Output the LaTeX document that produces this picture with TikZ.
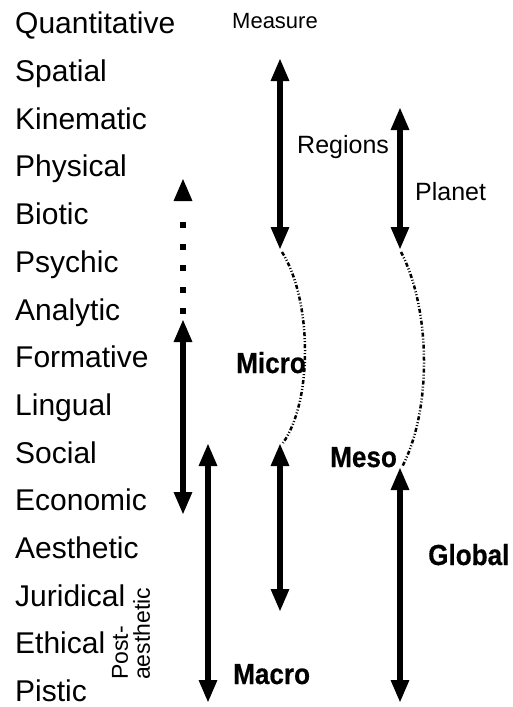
\documentclass[tikz,border=0pt]{standalone}
\usepackage{fontspec}
\setmainfont{Liberation Sans}
\newfontfamily\levelfont{Liberation Sans Bold}[FakeStretch=0.9, FakeBold=0.5]
\usetikzlibrary{arrows.meta}

\tikzset{
  aspect/.style={anchor=base west, inner sep=0pt, font=\fontsize{30}{36}\selectfont},
  levelname/.style={anchor=base west, inner sep=0pt, font=\levelfont\fontsize{29}{35}\selectfont},
  spanlabel/.style={anchor=base west, inner sep=0pt, font=\fontsize{25}{30}\selectfont},
  spanarr/.style={line width=6pt, {Triangle[length=23pt,width=17pt]}-{Triangle[length=23pt,width=17pt]}},
  tiponly/.style={line width=6pt, -{Triangle[length=23pt,width=17pt]}},
  dotlink/.style={line width=6pt, dash pattern=on 6pt off 15.5pt},
  wavelink/.style={line width=2.5pt, dash pattern=on 4pt off 2pt on 1pt off 2pt on 1pt off 2pt}
}

\begin{document}
\begin{tikzpicture}[x=1pt, y=-1pt]
      \useasboundingbox (0,0) rectangle (513,707);

      % aspects, top to bottom
      \node[aspect] (quant) at (15, 33) {Quantitative};
      \node[aspect] (spat) at (15, 81) {Spatial};
      \node[aspect] (kin) at (15, 129) {Kinematic};
      \node[aspect] (phys) at (15, 176) {Physical};
      \node[aspect] (bio) at (15, 224) {Biotic};
      \node[aspect] (psy) at (15, 272) {Psychic};
      \node[aspect] (ana) at (15, 320) {Analytic};
      \node[aspect] (form) at (15, 367) {Formative};
      \node[aspect] (ling) at (15, 415) {Lingual};
      \node[aspect] (soc) at (15, 463) {Social};
      \node[aspect] (eco) at (15, 510) {Economic};
      \node[aspect] (aes) at (15, 558) {Aesthetic};
      \node[aspect] (jur) at (15, 606) {Juridical};
      \node[aspect] (eth) at (15, 653) {Ethical};
      \node[aspect] (pis) at (15, 701) {Pistic};

      \node[rotate=90, anchor=west, inner sep=0pt, align=left,
            font=\fontsize{23}{22}\selectfont] (post) at (131, 680) {Post-\\aesthetic};

      % measure scale
      \node[anchor=base west, inner sep=0pt, font=\fontsize{22}{26}\selectfont] (meas) at (232, 28) {Measure};
      \node[spanlabel] (reg) at (297, 153) {Regions};
      \node[spanlabel] (pla) at (415, 200) {Planet};

      \node[levelname] (micro) at (236, 373) {Micro};
      \node[levelname] (meso) at (330, 467) {Meso};
      \node[levelname] (glob) at (428, 565) {Global};
      \node[levelname] (macro) at (233, 684) {Macro};

      \coordinate (regT) at (280, 58);
      \coordinate (regB) at (280, 250);
      \coordinate (plaT) at (400, 107);
      \coordinate (plaB) at (400, 250);
      \coordinate (bioT) at (183, 178);
      \coordinate (bioH) at (183, 201);
      \coordinate (dotT) at (183, 222);
      \coordinate (dotB) at (183, 314);
      \coordinate (micT) at (183, 319);
      \coordinate (micB) at (183, 515);
      \coordinate (macT) at (208, 443);
      \coordinate (macB) at (208, 703);
      \coordinate (mesT) at (280, 443);
      \coordinate (mesB) at (280, 612);
      \coordinate (gloT) at (400, 467);
      \coordinate (gloB) at (400, 703);

      \draw[spanarr] (regT) -- (regB);
      \draw[spanarr] (plaT) -- (plaB);
      \draw[tiponly] (bioH) -- (bioT);
      \draw[dotlink] (dotB) -- (dotT);
      \draw[spanarr] (micT) -- (micB);
      \draw[spanarr] (macT) -- (macB);
      \draw[spanarr] (mesT) -- (mesB);
      \draw[spanarr] (gloT) -- (gloB);

      % boundaries between the scales
      \draw[wavelink] (282, 252) .. controls (312, 300) and (313, 400) .. (283, 443);
      \draw[wavelink] (401, 252) .. controls (431, 310) and (432, 410) .. (402, 467);
    \end{tikzpicture}
\end{document}
